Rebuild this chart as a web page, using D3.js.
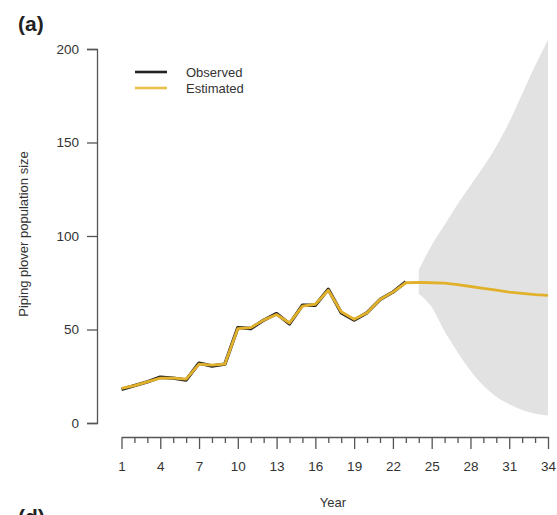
<!DOCTYPE html>
<html>
<head>
<meta charset="utf-8">
<script src="https://d3js.org/d3.v7.min.js"></script>
<style>
body { margin: 0; background: #fff; }
text { font-family: "Liberation Sans", Arial, sans-serif; fill: #333; }
</style>
</head>
<body>
<svg width="557" height="515"></svg>
<script>
// observed counts, years 1-23
var obsYears = d3.range(1, 24);
var observed = [18, 20, 22, 24.5, 24, 23, 32, 30.5, 31.5, 51, 50.5, 55, 58.5, 53, 63, 63, 71.5, 59, 55, 59, 66, 70, 75.5];

// model estimate, years 1-34
var estYears = d3.range(1, 35);
var estimated = [18.5, 20, 22, 24, 24, 23.5, 31.5, 31, 31.5, 50.5, 51, 55, 58, 53.5, 62.5, 63.5, 71, 59.5, 55.5, 59, 66, 70, 75,
                 75.2, 75, 74.8, 74, 73, 72, 71, 70, 69.3, 68.6, 68.2];

// projection interval, years 24-34
var bandYears = d3.range(24, 35);
var upper = [82, 95, 106, 117, 127, 137, 148, 161, 176, 191, 205];
var lower = [69, 62, 49, 38, 28, 20, 14, 10, 7, 5, 4];

var yTicks = [0, 50, 100, 150, 200];

var svg = d3.select("svg");

var x = d3.scaleLinear().domain([1, 34]).range([121.5, 548]);
var y = d3.scaleLinear().domain([0, 200]).range([423, 49]);

// grey band
var area = d3.area()
    .x(function(d, i) { return x(bandYears[i]); })
    .y0(function(d, i) { return y(lower[i]); })
    .y1(function(d, i) { return y(upper[i]); })
    .curve(d3.curveMonotoneX);

svg.append("path")
    .datum(upper)
    .attr("fill", "#e2e2e2")
    .attr("d", area);

var line = d3.line()
    .x(function(d) { return x(d[0]); })
    .y(function(d) { return y(d[1]); });

svg.append("path")
    .datum(d3.zip(obsYears, observed))
    .attr("fill", "none")
    .attr("stroke", "#222")
    .attr("stroke-width", 3.4)
    .attr("stroke-linejoin", "round")
    .attr("d", line);

svg.append("path")
    .datum(d3.zip(estYears, estimated))
    .attr("fill", "none")
    .attr("stroke", "#e2b12c")
    .attr("stroke-width", 2.8)
    .attr("stroke-linejoin", "round")
    .attr("d", line);

// y axis
var gy = svg.append("g")
    .attr("transform", "translate(97,0)")
    .call(d3.axisLeft(y).tickValues(yTicks).tickSize(10).tickPadding(8));
gy.selectAll("path, line").attr("stroke", "#555").attr("stroke-width", 1.3);
gy.selectAll("text").style("font-size", "13.5px").attr("fill", "#333");

// x axis: tick every year, label every third
var gx = svg.append("g")
    .attr("transform", "translate(0,437)")
    .call(d3.axisBottom(x)
        .tickValues(estYears)
        .tickSizeInner(6)
        .tickSizeOuter(0)
        .tickFormat(function(d) { return (d - 1) % 3 === 0 ? d : ""; }));
gx.select(".domain").attr("stroke", "#555").attr("stroke-width", 1.3);
gx.selectAll("line").attr("stroke", "#555").attr("stroke-width", 1.3);
gx.selectAll(".tick").filter(function(d) { return (d - 1) % 3 === 0; })
    .select("line").attr("y2", 12);
gx.selectAll("text").style("font-size", "13.5px").attr("fill", "#333").attr("y", 24);

// labels
svg.append("text")
    .attr("transform", "translate(28,234) rotate(-90)")
    .attr("text-anchor", "middle")
    .style("font-size", "13px")
    .text("Piping plover population size");

svg.append("text")
    .attr("x", 333)
    .attr("y", 507)
    .attr("text-anchor", "middle")
    .style("font-size", "13px")
    .text("Year");

svg.append("text")
    .attr("x", 18)
    .attr("y", 31)
    .style("font-size", "21px")
    .style("font-weight", "bold")
    .style("fill", "#222")
    .text("(a)");

svg.append("text")
    .attr("x", 18)
    .attr("y", 524)
    .style("font-size", "21px")
    .style("font-weight", "bold")
    .style("fill", "#222")
    .text("(d)");

// legend
var legend = [["Observed", "#222"], ["Estimated", "#e8c24a"]];
var lg = svg.selectAll(".lg").data(legend).enter().append("g")
    .attr("class", "lg")
    .attr("transform", function(d, i) { return "translate(135," + (72 + i * 16) + ")"; });
lg.append("line")
    .attr("x1", 0).attr("x2", 32)
    .attr("stroke", function(d) { return d[1]; })
    .attr("stroke-width", 2.6);
lg.append("text")
    .attr("x", 51)
    .attr("dy", "0.35em")
    .style("font-size", "13px")
    .text(function(d) { return d[0]; });
</script>
</body>
</html>
